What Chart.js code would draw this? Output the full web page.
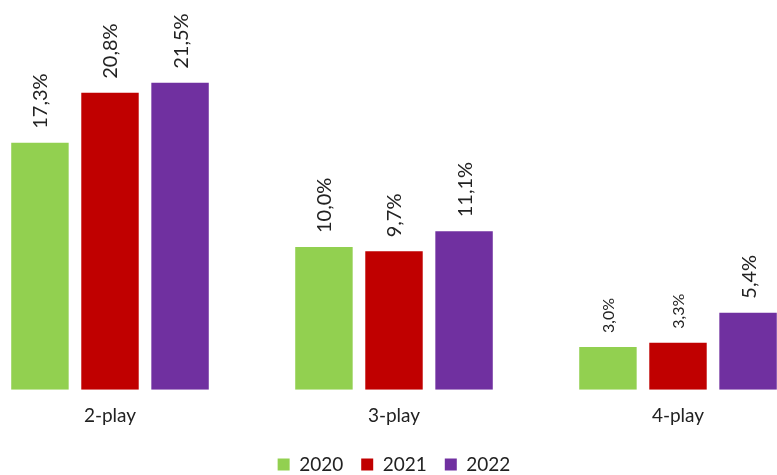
<!DOCTYPE html>
<html>
<head>
<meta charset="utf-8">
<script src="https://cdn.jsdelivr.net/npm/chart.js@4/dist/chart.umd.min.js"></script>
<style>
  html, body { margin: 0; padding: 0; background: #fff; overflow: hidden; width: 777px; height: 475px; }
  #wrap { position: absolute; left: -32px; top: 0; width: 852px; height: 484px; }
</style>
</head>
<body>
<div id="wrap"><canvas id="c"></canvas></div>
<script>
const categories = ['2-play', '3-play', '4-play'];
const seriesNames = ['2020', '2021', '2022'];
const values2020 = [17.3, 10.0, 3.0];
const values2021 = [20.8, 9.7, 3.3];
const values2022 = [21.5, 11.1, 5.4];
const colors = ['#92D050', '#C00000', '#7030A0'];

const fmt = v => v.toFixed(1).replace('.', ',') + '%';

const labelPlugin = {
  id: 'vlabels',
  afterDatasetsDraw(chart) {
    const ctx = chart.ctx;
    chart.data.datasets.forEach((ds, di) => {
      const meta = chart.getDatasetMeta(di);
      meta.data.forEach((el, i) => {
        const v = ds.data[i];
        const size = v < 4 ? 16 : 20;
        ctx.save();
        ctx.translate(el.x + 1, el.y - 14);
        ctx.rotate(-Math.PI / 2);
        ctx.font = size + 'px Lato';
        ctx.fillStyle = '#222';
        ctx.textAlign = 'left';
        ctx.textBaseline = 'middle';
        ctx.fillText(fmt(v), 0, 0);
        ctx.restore();
      });
    });
  }
};

new Chart(document.getElementById('c'), {
  type: 'bar',
  data: {
    labels: categories,
    datasets: [
      { label: seriesNames[0], data: values2020, backgroundColor: colors[0] },
      { label: seriesNames[1], data: values2021, backgroundColor: colors[1] },
      { label: seriesNames[2], data: values2022, backgroundColor: colors[2] }
    ]
  },
  options: {
    responsive: true,
    maintainAspectRatio: false,
    animation: false,
    layout: { padding: { top: 0, bottom: 0, left: 0, right: 0 } },
    datasets: { bar: { categoryPercentage: 0.74, barPercentage: 0.82 } },
    scales: {
      x: {
        grid: { display: false, drawTicks: false },
        border: { display: false },
        ticks: { color: '#222', font: { family: 'Lato', size: 19 }, padding: 15 },
        afterFit(scale) { scale.height -= 5.6; }
      },
      y: { display: false, min: 0, max: 27.3 }
    },
    plugins: {
      legend: {
        position: 'bottom',
        labels: { boxWidth: 12, boxHeight: 12, color: '#222', font: { family: 'Lato', size: 19 }, padding: 18 }
      },
      tooltip: { enabled: false }
    }
  },
  plugins: [labelPlugin]
});
</script>
</body>
</html>
